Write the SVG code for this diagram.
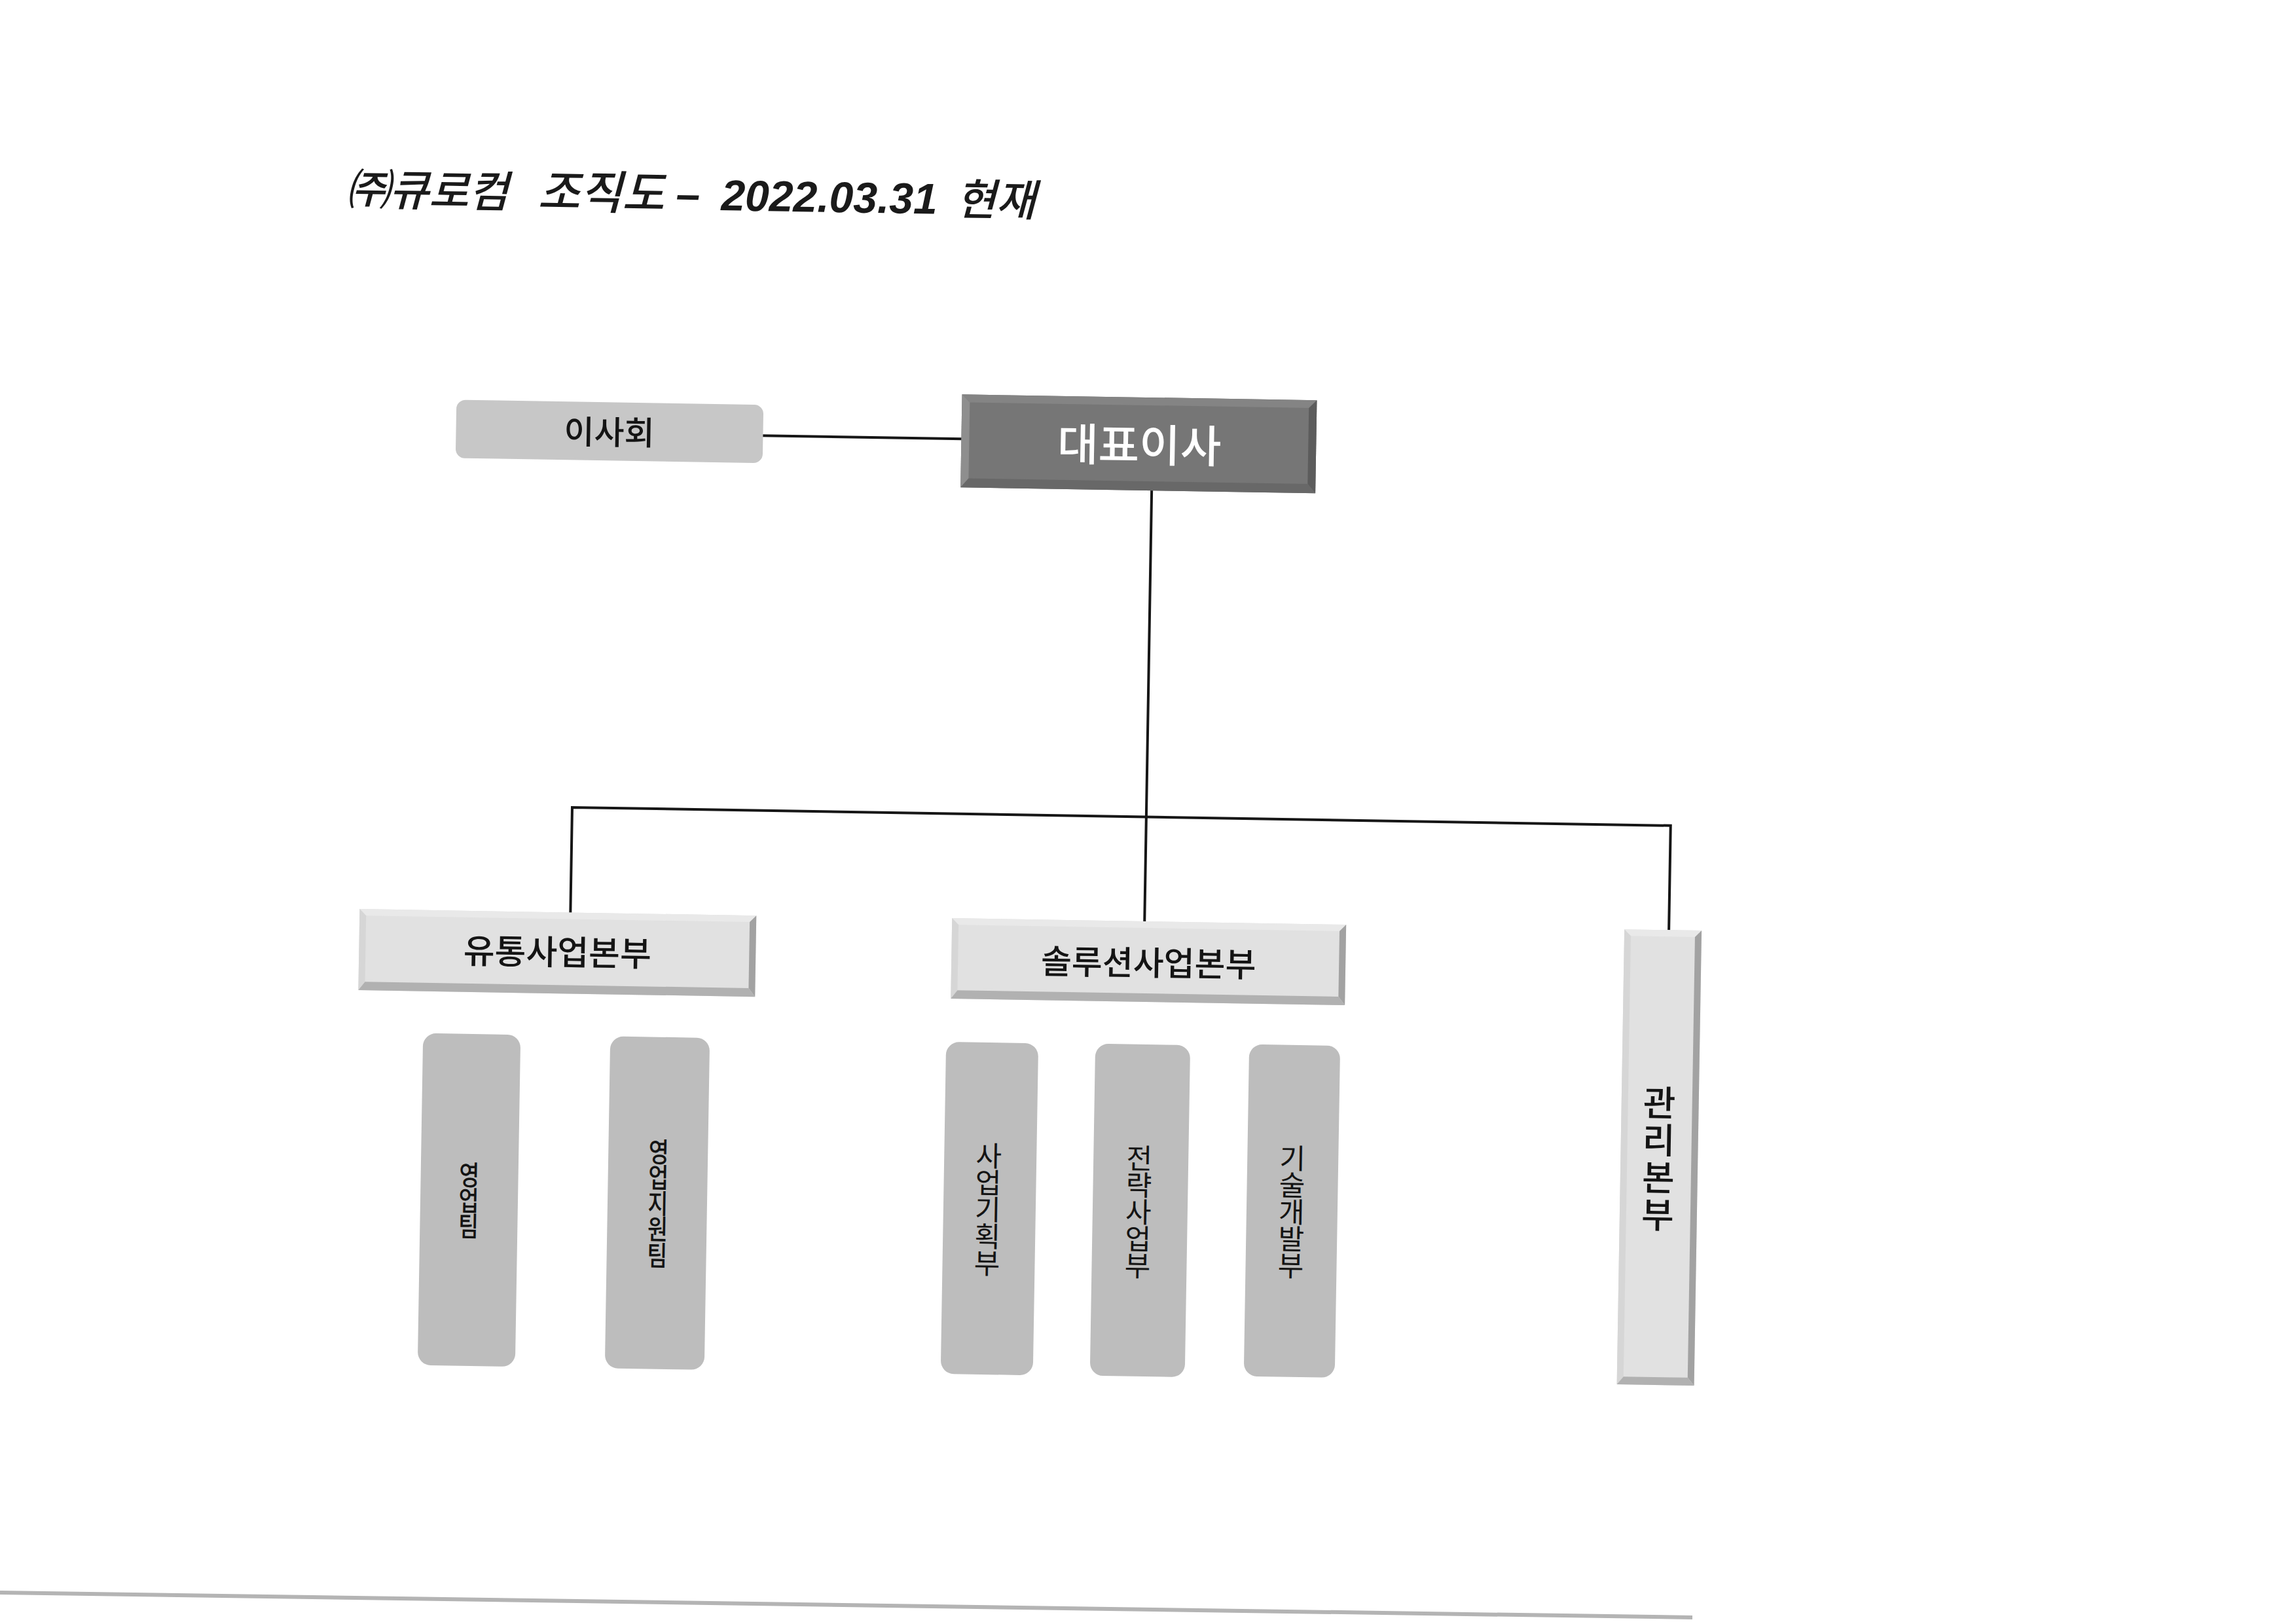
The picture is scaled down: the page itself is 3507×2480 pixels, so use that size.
<svg xmlns="http://www.w3.org/2000/svg" width="3507" height="2480" viewBox="0 0 3507 2480">
<style>
  .kr{font-family:"Noto Sans CJK KR","Noto Sans",sans-serif}
  .lat{font-family:"Liberation Sans",Arial,sans-serif}
  .conn{stroke:#161616;stroke-width:4;fill:none;stroke-linecap:square}
  .board{fill:#c7c7c7}
  .sub{fill:#bdbdbd}
  .ceo-base{fill:#767676}
  .ceo-t{fill:#848484}.ceo-l{fill:#8e8e8e}.ceo-r{fill:#5c5c5c}.ceo-b{fill:#686868}
  .div-base{fill:#e1e1e1}
  .div-t{fill:#e9e9e9}.div-l{fill:#d6d6d6}.div-r{fill:#a2a2a2}.div-b{fill:#b1b1b1}
  .lbl{fill:#141414;font-weight:500}
  .lbl-w{fill:#ffffff;font-weight:500}
  .vtxt{fill:#141414;font-weight:400}
  .ctxt{fill:#141414;font-weight:500}
  .ttl{fill:#1a1a1a;font-style:italic}
</style>
<rect width="3507" height="2480" fill="#ffffff"/>
<g id="page" transform="rotate(0.95 1750 1300)">
  <g id="title">
    <text class="kr ttl" x="512" y="333" font-size="66" font-weight="500">㈜큐로컴</text>
    <text class="kr ttl" x="805" y="333" font-size="70" font-weight="500">조직도</text>
    <text class="lat ttl" x="1016" y="331" font-size="66" font-weight="bold">–</text>
    <text class="lat ttl" x="1085" y="332" font-size="66" font-weight="bold">2022.03.31</text>
    <text class="kr ttl" x="1444" y="333" font-size="66" font-weight="500">현재</text>
  </g>
  <g id="connectors">
    <line class="conn" x1="1155" y1="675" x2="1458" y2="675"/>
    <line class="conn" x1="1750" y1="749" x2="1750" y2="1407"/>
    <polyline class="conn" points="873,1408 873,1247.5 2551,1247.5 2551,1407"/>
  </g>
  <g id="node-board">
    <rect class="board" x="686" y="628" width="469" height="89" rx="14"/>
    <text class="kr lbl" x="920" y="692" font-size="50" text-anchor="middle">이사회</text>
  </g>
  <g id="node-ceo">
    <rect class="ceo-base" x="1458" y="607" width="542" height="142"/>
    <polygon class="ceo-t" points="1458,607 2000,607 1988,619 1470,619"/>
    <polygon class="ceo-l" points="1458,607 1470,619 1470,735 1458,749"/>
    <polygon class="ceo-r" points="2000,607 2000,749 1988,735 1988,619"/>
    <polygon class="ceo-b" points="1458,749 2000,749 1988,735 1470,735"/>
    <text class="kr lbl-w" x="1730" y="705" font-size="68" text-anchor="middle">대표이사</text>
  </g>
  <g id="node-distribution">
    <rect class="div-base" x="551" y="1408" width="606" height="124"/>
    <polygon class="div-t" points="551,1408 1157,1408 1147,1418 561,1418"/>
    <polygon class="div-l" points="551,1408 561,1418 561,1519 551,1532"/>
    <polygon class="div-r" points="1157,1408 1157,1532 1147,1519 1147,1418"/>
    <polygon class="div-b" points="551,1532 1157,1532 1147,1519 561,1519"/>
    <text class="kr lbl" x="854" y="1488" font-size="52" text-anchor="middle">유통사업본부</text>
  </g>
  <g id="node-solution">
    <rect class="div-base" x="1456" y="1407" width="602" height="123"/>
    <polygon class="div-t" points="1456,1407 2058,1407 2048,1417 1466,1417"/>
    <polygon class="div-l" points="1456,1407 1466,1417 1466,1517 1456,1530"/>
    <polygon class="div-r" points="2058,1407 2058,1530 2048,1517 2048,1417"/>
    <polygon class="div-b" points="1456,1530 2058,1530 2048,1517 1466,1517"/>
    <text class="kr lbl" x="1757" y="1489" font-size="51" text-anchor="middle">솔루션사업본부</text>
  </g>
  <g id="node-management">
    <rect class="div-base" x="2483" y="1407" width="118" height="695"/>
    <polygon class="div-t" points="2483,1407 2601,1407 2591,1417 2493,1417"/>
    <polygon class="div-l" points="2483,1407 2493,1417 2493,2090 2483,2102"/>
    <polygon class="div-r" points="2601,1407 2601,2102 2591,2090 2591,1417"/>
    <polygon class="div-b" points="2483,2102 2601,2102 2591,2090 2493,2090"/>
    <text class="kr lbl" font-size="54" font-weight="bold" text-anchor="middle" x="2541 2541 2541 2541" y="1691 1748 1805 1862">관리본부</text>
  </g>
  <g id="node-sales">
    <rect class="sub" x="651" y="1596" width="149" height="507" rx="20"/>
    <text class="kr ctxt" transform="translate(725 0) scale(0.8 1)" font-size="42" text-anchor="middle" x="0 0 0" y="1827 1866 1905">영업팀</text>
  </g>
  <g id="node-sales-support">
    <rect class="sub" x="937" y="1596" width="152" height="507" rx="20"/>
    <text class="kr ctxt" transform="translate(1014 0) scale(0.8 1)" font-size="42" text-anchor="middle" x="0 0 0 0 0" y="1787 1826 1866 1905 1945">영업지원팀</text>
  </g>
  <g id="node-planning">
    <rect class="sub" x="1450" y="1596" width="141" height="507" rx="20"/>
    <text class="kr vtxt" font-size="43" text-anchor="middle" x="1518 1518 1518 1518 1518" y="1785 1826 1867 1908 1949">사업기획부</text>
  </g>
  <g id="node-strategy">
    <rect class="sub" x="1678" y="1595" width="145" height="507" rx="20"/>
    <text class="kr vtxt" font-size="43" text-anchor="middle" x="1748 1748 1748 1748 1748" y="1785 1826 1867 1908 1949">전략사업부</text>
  </g>
  <g id="node-tech">
    <rect class="sub" x="1913" y="1592" width="139" height="507" rx="20"/>
    <text class="kr vtxt" font-size="43" text-anchor="middle" x="1982 1982 1982 1982 1982" y="1781 1822 1863 1904 1945">기술개발부</text>
  </g>
</g>
<line x1="0" y1="2432" x2="2585" y2="2470" stroke="#b4b4b4" stroke-width="6"/>
</svg>
